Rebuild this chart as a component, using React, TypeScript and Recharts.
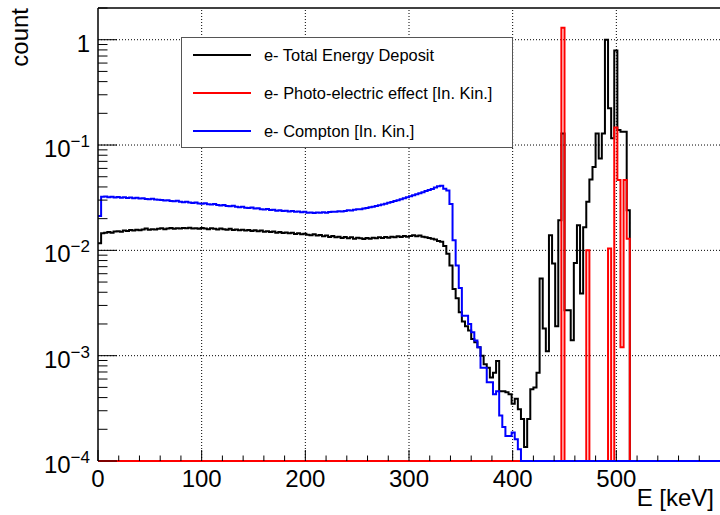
import React from 'react';
import { ComposedChart, Line, XAxis, YAxis, ReferenceLine, Legend } from 'recharts';

// Energy spectra of electrons, 3 keV bins from 0 to 600 keV (200 bins).
const BIN_WIDTH = 3;

// e- Total Energy Deposit
const totalDeposit = [
  0.0117, 0.0145, 0.0147, 0.0149, 0.0147, 0.0151, 0.0152, 0.0150, 0.0154, 0.0153,
  0.0156, 0.0154, 0.0157, 0.0155, 0.0158, 0.0161, 0.0157, 0.0159, 0.0158, 0.0160,
  0.0162, 0.0159, 0.0161, 0.0163, 0.0160, 0.0162, 0.0161, 0.0163, 0.0162, 0.0164,
  0.0161, 0.0162, 0.0160, 0.0163, 0.0161, 0.0159, 0.0162, 0.0160, 0.0158, 0.0161,
  0.0159, 0.0157, 0.0160, 0.0156, 0.0158, 0.0155, 0.0157, 0.0154, 0.0156, 0.0153,
  0.0155, 0.0152, 0.0154, 0.0150, 0.0152, 0.0149, 0.0151, 0.0147, 0.0149, 0.0146,
  0.0148, 0.0145, 0.0147, 0.0143, 0.0145, 0.0142, 0.0144, 0.0141, 0.0139, 0.0142,
  0.0138, 0.0140, 0.0136, 0.0138, 0.0134, 0.0137, 0.0133, 0.0135, 0.0131, 0.0134,
  0.0130, 0.0133, 0.0129, 0.0132, 0.0130, 0.0128, 0.0131, 0.0129, 0.0132, 0.0130,
  0.0133, 0.0131, 0.0134, 0.0132, 0.0135, 0.0133, 0.0136, 0.0134, 0.0137, 0.0135,
  0.0137, 0.0139, 0.0136, 0.0138, 0.0135, 0.0133, 0.0131, 0.0129, 0.0127, 0.0123,
  0.0121, 0.0110, 0.0093, 0.0072, 0.0043, 0.0035, 0.00259, 0.00211, 0.0019, 0.00173,
  0.00144, 0.00134, 0.0012, 0.0010, 0.00083, 0.00077, 0.00062, 0.00069, 0.00089, 0.00046,
  0.00046, 0.00045, 0.00043, 0.00035, 0.00039, 0.00031, 0.00025, 0.000136, 0.00025, 0.00048,
  0.0005, 0.00069, 0.0054, 0.00181, 0.0011, 0.0139, 0.0075, 0.0019, 0.0193, 0.129,
  0.0027, 0.0027, 0.0014, 0.0076, 0.0173, 0.0039, 0.0166, 0.029, 0.047, 0.062,
  0.129, 0.0746, 0.129, 1.0, 0.223, 0.116, 0.79, 0.139, 0.134, 0.134,
  0.024, 0, 0, 0, 0, 0, 0, 0, 0, 0,
  0, 0, 0, 0, 0, 0, 0, 0, 0, 0,
  0, 0, 0, 0, 0, 0, 0, 0, 0, 0,
];

// e- Photo-electric effect [In. Kin.]
const photoElectric = [
  0, 0, 0, 0, 0, 0, 0, 0, 0, 0,
  0, 0, 0, 0, 0, 0, 0, 0, 0, 0,
  0, 0, 0, 0, 0, 0, 0, 0, 0, 0,
  0, 0, 0, 0, 0, 0, 0, 0, 0, 0,
  0, 0, 0, 0, 0, 0, 0, 0, 0, 0,
  0, 0, 0, 0, 0, 0, 0, 0, 0, 0,
  0, 0, 0, 0, 0, 0, 0, 0, 0, 0,
  0, 0, 0, 0, 0, 0, 0, 0, 0, 0,
  0, 0, 0, 0, 0, 0, 0, 0, 0, 0,
  0, 0, 0, 0, 0, 0, 0, 0, 0, 0,
  0, 0, 0, 0, 0, 0, 0, 0, 0, 0,
  0, 0, 0, 0, 0, 0, 0, 0, 0, 0,
  0, 0, 0, 0, 0, 0, 0, 0, 0, 0,
  0, 0, 0, 0, 0, 0, 0, 0, 0, 0,
  0, 0, 0, 0, 0, 0, 0, 0, 0, 1.3,
  0, 0, 0, 0, 0, 0, 0, 0.0100, 0, 0,
  0, 0, 0, 0, 0.0104, 0, 0.147, 0.0465, 0.0012, 0.0465,
  0.0129, 0, 0, 0, 0, 0, 0, 0, 0, 0,
  0, 0, 0, 0, 0, 0, 0, 0, 0, 0,
  0, 0, 0, 0, 0, 0, 0, 0, 0, 0,
];

// e- Compton [In. Kin.]
const compton = [
  0.0212, 0.0322, 0.0325, 0.0320, 0.0323, 0.0318, 0.0321, 0.0316, 0.0319, 0.0314,
  0.0317, 0.0312, 0.0315, 0.0310, 0.0313, 0.0308, 0.0306, 0.0309, 0.0304, 0.0302,
  0.0300, 0.0297, 0.0299, 0.0294, 0.0292, 0.0295, 0.0289, 0.0287, 0.0290, 0.0284,
  0.0282, 0.0285, 0.0279, 0.0277, 0.0280, 0.0274, 0.0272, 0.0275, 0.0269, 0.0267,
  0.0270, 0.0264, 0.0262, 0.0265, 0.0259, 0.0257, 0.0260, 0.0254, 0.0252, 0.0255,
  0.0249, 0.0251, 0.0246, 0.0244, 0.0247, 0.0241, 0.0243, 0.0238, 0.0240, 0.0236,
  0.0238, 0.0234, 0.0236, 0.0232, 0.0234, 0.0230, 0.0233, 0.0227, 0.0229, 0.0226,
  0.0229, 0.0227, 0.0230, 0.0228, 0.0231, 0.0233, 0.0232, 0.0235, 0.0234, 0.0237,
  0.0240, 0.0239, 0.0243, 0.0246, 0.0245, 0.0249, 0.0252, 0.0256, 0.0259, 0.0263,
  0.0268, 0.0272, 0.0277, 0.0283, 0.0288, 0.0294, 0.0299, 0.0306, 0.0313, 0.0320,
  0.0327, 0.0333, 0.0341, 0.0349, 0.0357, 0.0366, 0.0374, 0.0383, 0.0395, 0.0405,
  0.0410, 0.0385, 0.0370, 0.0275, 0.0125, 0.0072, 0.0044, 0.0024, 0.0024, 0.0020,
  0.00167, 0.00139, 0.0012, 0.00077, 0.00077, 0.00056, 0.00056, 0.00043, 0.00046, 0.00027,
  0.00021, 0.000173, 0.000173, 0.000186, 0.000161, 0.000129, 0, 0, 0, 0,
  0, 0, 0, 0, 0, 0, 0, 0, 0, 0,
  0, 0, 0, 0, 0, 0, 0, 0, 0, 0,
  0, 0, 0, 0, 0, 0, 0, 0, 0, 0,
  0, 0, 0, 0, 0, 0, 0, 0, 0, 0,
  0, 0, 0, 0, 0, 0, 0, 0, 0, 0,
  0, 0, 0, 0, 0, 0, 0, 0, 0, 0,
];

const seriesKeys = ['total', 'photo', 'compton'];
const seriesNames = [
  'e- Total Energy Deposit',
  'e- Photo-electric effect [In. Kin.]',
  'e- Compton [In. Kin.]',
];

// Axis ticks
const xTicks = [
  0, 20, 40, 60, 80, 100, 120, 140, 160, 180, 200, 220, 240, 260, 280,
  300, 320, 340, 360, 380, 400, 420, 440, 460, 480, 500, 520, 540, 560, 580,
];
const xMajorTicks = [0, 100, 200, 300, 400, 500];
const yTicks = [
  1e-4, 2e-4, 3e-4, 4e-4, 5e-4, 6e-4, 7e-4, 8e-4, 9e-4,
  1e-3, 2e-3, 3e-3, 4e-3, 5e-3, 6e-3, 7e-3, 8e-3, 9e-3,
  1e-2, 2e-2, 3e-2, 4e-2, 5e-2, 6e-2, 7e-2, 8e-2, 9e-2,
  1e-1, 0.2, 0.3, 0.4, 0.5, 0.6, 0.7, 0.8, 0.9,
  1, 2,
];
const yDecades = [1e-4, 1e-3, 1e-2, 1e-1, 1];
const yDecadeExponents = ['\u22124', '\u22123', '\u22122', '\u22121', ''];
const xGridValues = [100, 200, 300, 400, 500];
const yGridValues = [1e-3, 1e-2, 1e-1, 1];

const Y_MIN = 1e-4;
const Y_MAX = 2;
const X_MAX = 600;

const FONT = '"Liberation Sans", Arial, Helvetica, sans-serif';
const COLORS = ['#000000', '#ff0000', '#0000ff'];

// Empty bins sit on the bottom of the log axis, as in a ROOT histogram.
const floorValue = (v: number) => (v > 0 ? v : Y_MIN);

const nBins = totalDeposit.length;
const data = Array.from({ length: nBins + 1 }, (_, k) => {
  const i = Math.min(k, nBins - 1);
  return {
    e: k * BIN_WIDTH,
    total: floorValue(totalDeposit[i]),
    photo: floorValue(photoElectric[i]),
    compton: floorValue(compton[i]),
  };
});

const XTick = (props: any) => {
  const { x, y, payload } = props;
  const v = payload.value as number;
  const major = xMajorTicks.includes(v);
  return (
    <g>
      <line x1={x} x2={x} y1={y} y2={y - (major ? 11 : 5.5)} stroke="#000" strokeWidth={1} />
      {major && (
        <text x={x} y={y + 26} textAnchor="middle" fontSize={24} fontFamily={FONT} fill="#000">
          {v}
        </text>
      )}
    </g>
  );
};

const YTick = (props: any) => {
  const { x, y, payload } = props;
  const v = payload.value as number;
  const di = yDecades.findIndex((d) => Math.abs(d - v) / d < 1e-6);
  const major = di >= 0;
  const exp = major ? yDecadeExponents[di] : '';
  return (
    <g>
      <line x1={x} x2={x + (major ? 19 : 9.5)} y1={y} y2={y} stroke="#000" strokeWidth={1} />
      {major && (
        <text x={x - 8} y={y + 12} textAnchor="end" fontSize={24} fontFamily={FONT} fill="#000">
          {exp === '' ? (
            '1'
          ) : (
            <>
              <tspan>10</tspan>
              <tspan fontSize={17} dy={-10}>{exp}</tspan>
            </>
          )}
        </text>
      )}
    </g>
  );
};

// Legend entries follow the drawing order of the histograms.
const LegendBox = () => (
  <div
    style={{
      width: 332,
      height: 111,
      boxSizing: 'border-box',
      border: '1.5px solid #555',
      background: '#fff',
      position: 'relative',
      fontFamily: FONT,
      fontSize: 16.4,
      color: '#000',
    }}
  >
    {seriesNames.map((name, i) => (
      <div
        key={name}
        style={{
          position: 'absolute',
          left: 11,
          top: 17 + 38 * i - 10,
          height: 20,
          display: 'flex',
          alignItems: 'center',
          whiteSpace: 'nowrap',
        }}
      >
        <div style={{ width: 58, height: 2, background: COLORS[i], marginRight: 13 }} />
        <span>{name}</span>
      </div>
    ))}
  </div>
);

export default function App() {
  return (
    <div style={{ position: 'absolute', left: 0, top: 0, width: 720, height: 515, background: '#fff' }}>
      <ComposedChart
        width={720}
        height={515}
        data={data}
        margin={{ top: 8, right: 0, bottom: 0, left: 0 }}
      >
        <XAxis
          dataKey="e"
          type="number"
          domain={[0, X_MAX]}
          ticks={xTicks}
          interval={0}
          tickSize={0}
          tickMargin={0}
          tick={<XTick />}
          height={54}
          axisLine={false}
        />
        <YAxis
          type="number"
          scale="log"
          domain={[Y_MIN, Y_MAX]}
          ticks={yTicks}
          interval={0}
          tickSize={0}
          tickMargin={0}
          tick={<YTick />}
          width={98}
          axisLine={{ stroke: '#000', strokeWidth: 1.5 }}
        />
        {xGridValues.map((v) => (
          <ReferenceLine key={`gx${v}`} x={v} stroke="#000" strokeWidth={1} strokeDasharray="1 2" />
        ))}
        {yGridValues.map((v) => (
          <ReferenceLine key={`gy${v}`} y={v} stroke="#000" strokeWidth={1} strokeDasharray="1 2" />
        ))}
        <ReferenceLine y={Y_MAX} stroke="#000" strokeWidth={1.5} />
        {seriesKeys.map((key, i) => (
          <Line
            key={key}
            dataKey={key}
            name={seriesNames[i]}
            type="stepAfter"
            stroke={COLORS[i]}
            strokeWidth={2}
            dot={false}
            activeDot={false}
            isAnimationActive={false}
          />
        ))}
        <Legend
          layout="vertical"
          align="center"
          verticalAlign="middle"
          content={<LegendBox />}
          wrapperStyle={{ left: 181, top: 37, width: 332, height: 111 }}
        />
      </ComposedChart>
      <div
        style={{
          position: 'absolute',
          left: 27,
          top: 8,
          transformOrigin: '0 0',
          transform: 'rotate(-90deg) translateX(-100%)',
          fontFamily: FONT,
          fontSize: 24,
          lineHeight: '24px',
          whiteSpace: 'nowrap',
          color: '#000',
        }}
      >
        <span style={{ display: 'inline-block', transform: 'translateY(-19px)' }}>count</span>
      </div>
      <div
        style={{
          position: 'absolute',
          right: 6,
          top: 484,
          fontFamily: FONT,
          fontSize: 24,
          lineHeight: '28px',
          whiteSpace: 'nowrap',
          color: '#000',
        }}
      >
        E [keV]
      </div>
    </div>
  );
}
